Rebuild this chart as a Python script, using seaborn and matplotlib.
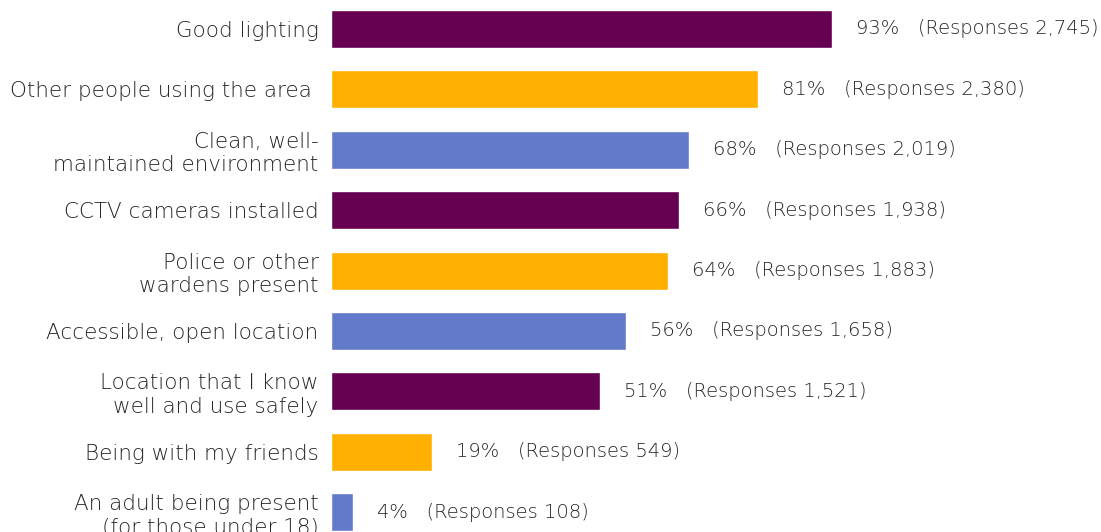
import matplotlib
matplotlib.use("Agg")
import matplotlib.pyplot as plt
import seaborn as sns
import pandas as pd

categories = [
    "Good lighting",
    "Other people using the area ",
    "Clean, well-\nmaintained environment",
    "CCTV cameras installed",
    "Police or other\nwardens present",
    "Accessible, open location",
    "Location that I know\nwell and use safely",
    "Being with my friends",
    "An adult being present\n(for those under 18)",
]
bar_values = [95.1, 81, 68, 66, 64, 56, 51, 19.2, 4.2]
pct_labels = [93, 81, 68, 66, 64, 56, 51, 19, 4]
responses = ["2,745", "2,380", "2,019", "1,938", "1,883", "1,658", "1,521", "549", "108"]
colors = ["#660050", "#FFB000", "#6379C9", "#660050", "#FFB000", "#6379C9",
          "#660050", "#FFB000", "#6379C9"]

sns.set_style("white")
plt.rcParams["font.family"] = ["DejaVu Sans"]
text_color = "#262626"

df = pd.DataFrame({"cat": categories, "val": bar_values})

fig = plt.figure(figsize=(11.01, 5.32), dpi=100)
ax = fig.add_axes([331 / 1101, 0, 1 - 331 / 1101, 1])
sns.barplot(data=df, x="val", y="cat", hue="cat", palette=colors, legend=False,
            width=0.63, saturation=1, ax=ax)

ax.set_xlim(0, 770 / 5.27)
ax.set_ylim(8.33, -0.48)
ax.set_xlabel("")
ax.set_ylabel("")
ax.set_xticks([])
for s in ax.spines.values():
    s.set_visible(False)
ax.tick_params(axis="y", length=0, pad=9, labelsize=15.5, labelcolor=text_color)
for lbl in ax.get_yticklabels():
    lbl.set_linespacing(1.22)
    lbl.set_fontweight("light")

for i, (v, p, r) in enumerate(zip(bar_values, pct_labels, responses)):
    ax.annotate(f"{p}%   (Responses {r})", xy=(v, i), xytext=(24, 0),
                textcoords="offset pixels", va="center", ha="left",
                fontsize=14, color=text_color, fontweight="light")

fig.savefig("out.png", dpi=100)
